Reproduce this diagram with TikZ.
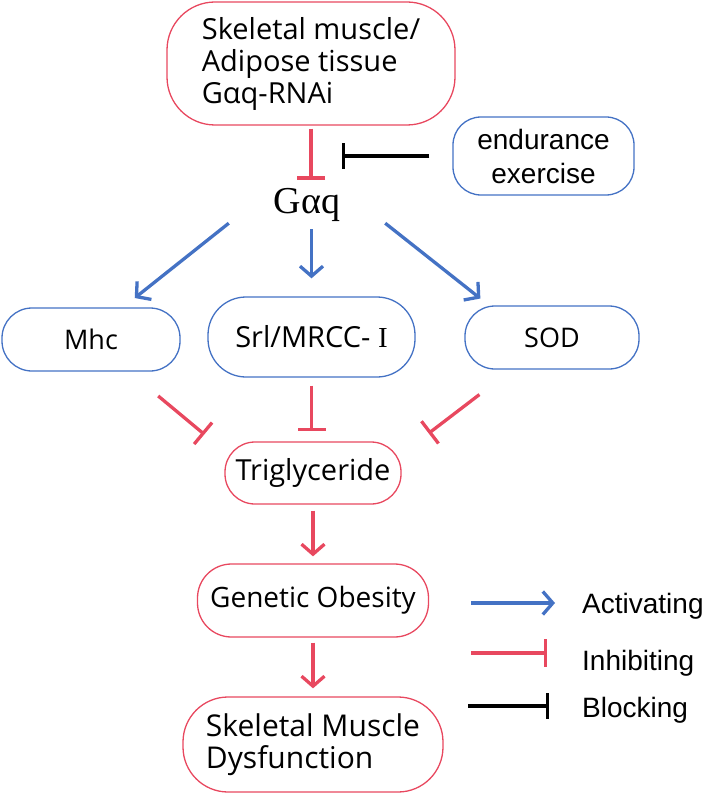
\documentclass[tikz,border=0pt]{standalone}
\usepackage{fontspec}
\setmainfont{Open Sans}
\newfontfamily\arialfont{Liberation Sans}
\newfontfamily\seriffont{Liberation Serif}
\usetikzlibrary{arrows.meta}
\definecolor{actblue}{RGB}{68,114,196}
\definecolor{inhred}{RGB}{232,72,95}
\begin{document}
\begin{tikzpicture}[x=1pt, y=-1pt,
	redbox/.style={draw=inhred, line width=1.3pt, rounded corners=30pt, inner sep=0pt},
	bluebox/.style={draw=actblue, line width=1.3pt, rounded corners=30pt, inner sep=0pt},
	act/.style={actblue, line width=3.3pt, -{Straight Barb[length=10pt, width=23pt]}},
	redarr/.style={inhred, line width=3.3pt, -{Straight Barb[length=10pt, width=23pt]}},
	inh/.style={inhred, line width=3.3pt, -{Bar[width=28pt]}},
	blk/.style={black, line width=3.3pt, -{Bar[width=26pt]}},
	legtext/.style={font=\arialfont\fontsize{28}{34}\selectfont, inner sep=0pt}]
				\useasboundingbox (0,0) rectangle (703,794);
				\node[redbox, rounded corners=48pt, minimum width=288pt, minimum height=123pt, align=left, font=\fontsize{29}{32}\selectfont] (top) at (311,63.5) {Skeletal muscle/\\Adipose tissue\\Gαq-RNAi};
				\node[bluebox, rounded corners=28pt, minimum width=181pt, minimum height=78pt, align=center, font=\arialfont\fontsize{28}{34}\selectfont] (endur) at (543.5,156) {endurance\\exercise};
				\node[font=\seriffont\fontsize{38}{38}\selectfont, minimum width=156pt, minimum height=36pt, inner sep=0pt] (gaq) at (307,205) {Gαq};
				\node[bluebox, minimum width=178pt, minimum height=63pt, font=\fontsize{27}{30}\selectfont] (mhc) at (91,339.5) {Mhc};
				\node[bluebox, rounded corners=38pt, minimum width=207pt, minimum height=80pt, font=\fontsize{29}{32}\selectfont] (srl) at (311.5,337) {Srl/MRCC- {\seriffont I}};
				\node[bluebox, minimum width=174pt, minimum height=63pt, font=\fontsize{27}{30}\selectfont] (sod) at (552,337.5) {SOD};
				\node[redbox, minimum width=176pt, minimum height=62pt, font=\fontsize{29}{32}\selectfont] (trig) at (313,473) {Triglyceride};
				\node[redbox, rounded corners=34pt, minimum width=231pt, minimum height=73pt, font=\fontsize{28}{32}\selectfont] (go) at (313,600.5) {Genetic Obesity};
				\node[redbox, rounded corners=45pt, minimum width=260pt, minimum height=95pt, align=left, font=\fontsize{30}{32}\selectfont] (smd) at (313,744.5) {Skeletal Muscle\\Dysfunction};
				\draw[inh, shorten <=3pt, shorten >=7pt] (top.south) -- (top.south |- gaq.north);
				\draw[blk, shorten <=23pt, shorten >=31pt] (endur.west) -- (endur.west -| top.south);
				\draw[act, shorten >=15pt] (gaq.south west) -- ([xshift=32pt]mhc.north);
				\draw[act, shorten <=6pt, shorten >=18pt] (gaq.south -| srl.north) -- (srl.north);
				\draw[act, shorten >=11pt] (gaq.south east) -- ([xshift=-63pt]sod.north);
				\draw[inh, shorten <=38pt, shorten >=26pt] ([xshift=38pt]mhc.south) -- ([yshift=22pt]trig.west);
				\draw[inh, shorten <=8pt, shorten >=10pt] (srl.south) -- (srl.south |- trig.north);
				\draw[inh, shorten <=41pt, shorten >=34pt] ([xshift=-40pt]sod.south) -- ([yshift=19pt]trig.east);
				\draw[redarr, shorten <=6pt, shorten >=7pt] (trig.south) -- (go.north);
				\draw[redarr, shorten <=5pt, shorten >=8pt] (go.south) -- (smd.north);
				\node[legtext, anchor=base west] (lact) at (582,613) {Activating};
				\node[legtext, anchor=base west] (linh) at (582,670) {Inhibiting};
				\node[legtext, anchor=base west] (lblk) at (582,717) {Blocking};
				\coordinate (actstart) at (471,603);
				\coordinate (inhstart) at (471,653);
				\coordinate (blkstart) at (468,706);
				\draw[act, shorten >=27pt] (actstart) -- (actstart -| lact.west);
				\draw[inh, shorten >=35pt] (inhstart) -- (inhstart -| linh.west);
				\draw[blk, shorten >=33pt] (blkstart) -- (blkstart -| lblk.west);
\end{tikzpicture}
\end{document}
